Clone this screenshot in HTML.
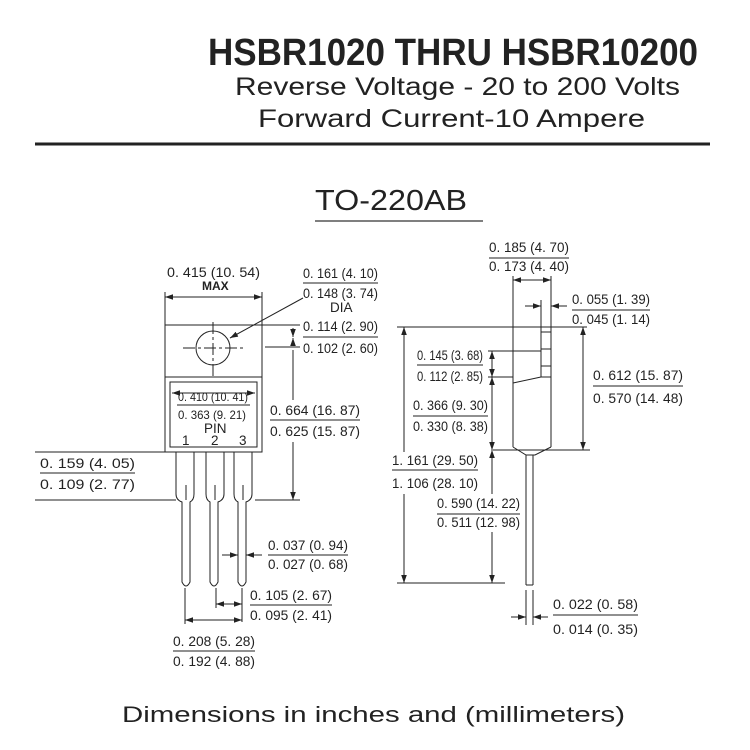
<!DOCTYPE html>
<html><head><meta charset="utf-8"><style>
html,body{margin:0;padding:0;background:#fff;}
svg{display:block;}
text{font-family:"Liberation Sans",sans-serif;fill:#222;}
.d{font-size:13.5px;}
</style></head><body>
<svg width="750" height="750" viewBox="0 0 750 750" xmlns="http://www.w3.org/2000/svg">
<defs>
<marker id="a" viewBox="0 0 10 10" refX="10" refY="5" markerWidth="8" markerHeight="8" orient="auto-start-reverse"><path d="M0,1.5 L10,5 L0,8.5 z" fill="#222"/></marker>
</defs>
<text x="208" y="65" font-size="38" font-weight="bold" textLength="490" lengthAdjust="spacingAndGlyphs">HSBR1020 THRU HSBR10200</text>
<text x="235" y="95" font-size="25" textLength="445" lengthAdjust="spacingAndGlyphs">Reverse Voltage - 20 to 200 Volts</text>
<text x="258" y="127" font-size="25" textLength="387" lengthAdjust="spacingAndGlyphs">Forward Current-10 Ampere</text>
<line x1="35" y1="144" x2="710" y2="144" stroke="#222" stroke-width="3"/>
<text x="315" y="210" font-size="29" textLength="152" lengthAdjust="spacingAndGlyphs">TO-220AB</text>
<line x1="315" y1="221" x2="483" y2="221" stroke="#555" stroke-width="1.5"/>

<g stroke="#222" stroke-width="1" fill="none">
<line x1="165" y1="292" x2="165" y2="325"/><line x1="262" y1="292" x2="262" y2="325"/>
<line x1="165" y1="297" x2="262" y2="297" marker-start="url(#a)" marker-end="url(#a)"/>
<rect x="165" y="325" width="97" height="127"/>
<line x1="165" y1="377" x2="262" y2="377"/>
<rect x="170" y="382" width="87" height="65"/>
<circle cx="213" cy="348" r="17"/>
<line x1="213" y1="322" x2="213" y2="376" stroke-dasharray="12,3,3,3"/>
<line x1="183" y1="348" x2="245" y2="348" stroke-dasharray="12,3,3,3"/>
<line x1="303" y1="298" x2="230" y2="338" marker-end="url(#a)"/>
<line x1="172" y1="393" x2="255" y2="393" marker-start="url(#a)" marker-end="url(#a)"/>
<path d="M176,452 V494 Q176,500 182,502 V582 Q186,590 190,582 V502 Q194,500 194,494 V452"/>
<line x1="186" y1="485" x2="186" y2="500"/>
<path d="M206,452 V494 Q206,500 210,502 V582 Q214,590 218,582 V502 Q224,500 224,494 V452"/>
<line x1="215" y1="485" x2="215" y2="500"/>
<path d="M234,452 V494 Q234,500 238,502 V582 Q242,590 246,582 V502 Q252,500 252,494 V452"/>
<line x1="243" y1="485" x2="243" y2="500"/>
<line x1="35" y1="452" x2="165" y2="452"/><line x1="35" y1="500" x2="176" y2="500"/>
<line x1="262" y1="325" x2="300" y2="325"/><line x1="265" y1="347" x2="300" y2="347"/>
<line x1="255" y1="500" x2="300" y2="500"/>
<line x1="293" y1="328" x2="293" y2="337" marker-end="url(#a)"/>
<line x1="293" y1="344" x2="293" y2="338" marker-end="url(#a)"/>
<line x1="293" y1="350" x2="293" y2="400"/>
<line x1="293" y1="442" x2="293" y2="500" marker-end="url(#a)"/>
<line x1="222" y1="555" x2="238" y2="555" marker-end="url(#a)"/>
<line x1="262" y1="555" x2="246" y2="555" marker-end="url(#a)"/>
<line x1="216" y1="588" x2="216" y2="608"/><line x1="242" y1="588" x2="242" y2="622"/>
<line x1="185" y1="588" x2="185" y2="624"/>
<line x1="216" y1="604" x2="242" y2="604" marker-start="url(#a)" marker-end="url(#a)"/>
<line x1="185" y1="620" x2="242" y2="620" marker-start="url(#a)" marker-end="url(#a)"/>

<line x1="513" y1="276" x2="513" y2="447"/><line x1="551" y1="276" x2="551" y2="447"/>
<line x1="513" y1="280" x2="551" y2="280" marker-start="url(#a)" marker-end="url(#a)"/>
<line x1="541" y1="300" x2="541" y2="377"/>
<line x1="541" y1="332" x2="551" y2="332"/><line x1="541" y1="349" x2="551" y2="349"/><line x1="541" y1="366" x2="551" y2="366"/>
<line x1="541" y1="377" x2="551" y2="377"/>
<path d="M513,383 L541,377"/>
<path d="M513,447 L526,455 L535,455 L551,447"/>
<line x1="525" y1="306" x2="541" y2="306" marker-end="url(#a)"/>
<line x1="567" y1="306" x2="551" y2="306" marker-end="url(#a)"/>
<line x1="397" y1="327" x2="587" y2="327"/>
<line x1="404" y1="327" x2="404" y2="452" marker-start="url(#a)"/>
<line x1="404" y1="494" x2="404" y2="583" marker-end="url(#a)"/>
<line x1="583" y1="327" x2="583" y2="450" marker-start="url(#a)" marker-end="url(#a)"/>
<line x1="493" y1="450" x2="590" y2="450"/>
<line x1="488" y1="351" x2="541" y2="351"/><line x1="488" y1="377" x2="513" y2="377"/>
<line x1="492" y1="351" x2="492" y2="377" marker-start="url(#a)" marker-end="url(#a)"/>
<line x1="492" y1="377" x2="492" y2="450" marker-start="url(#a)" marker-end="url(#a)"/>
<line x1="492" y1="450" x2="492" y2="494" marker-start="url(#a)"/>
<line x1="492" y1="532" x2="492" y2="583" marker-end="url(#a)"/>
<line x1="397" y1="583" x2="505" y2="583"/>
<line x1="526" y1="455" x2="526" y2="585"/><line x1="533" y1="455" x2="533" y2="585"/>
<line x1="526" y1="585" x2="533" y2="585"/>
<line x1="526" y1="590" x2="526" y2="625"/><line x1="533" y1="590" x2="533" y2="625"/>
<line x1="511" y1="617" x2="526" y2="617" marker-end="url(#a)"/>
<line x1="548" y1="617" x2="533" y2="617" marker-end="url(#a)"/>

<line x1="40" y1="473" x2="135" y2="473"/>
<line x1="270" y1="420" x2="360" y2="420"/>
<line x1="303" y1="283" x2="378" y2="283"/>
<line x1="303" y1="337" x2="378" y2="337"/>
<line x1="177" y1="405" x2="250" y2="405"/>
<line x1="268" y1="555" x2="348" y2="555"/>
<line x1="250" y1="605" x2="332" y2="605"/>
<line x1="173" y1="651" x2="255" y2="651"/>
<line x1="489" y1="258" x2="569" y2="258"/>
<line x1="572" y1="310" x2="650" y2="310"/>
<line x1="593" y1="386" x2="683" y2="386"/>
<line x1="417" y1="365" x2="483" y2="365"/>
<line x1="413" y1="416" x2="488" y2="416"/>
<line x1="392" y1="470" x2="478" y2="470"/>
<line x1="437" y1="514" x2="520" y2="514"/>
<line x1="553" y1="615" x2="638" y2="615"/>
</g>

<g class="d">
<text x="167" y="277" textLength="93" lengthAdjust="spacingAndGlyphs">0. 415 (10. 54)</text>
<text x="202" y="290" font-size="12" font-weight="bold">MAX</text>
<text x="303" y="278" textLength="75" lengthAdjust="spacingAndGlyphs">0. 161 (4. 10)</text>
<text x="303" y="298" textLength="75" lengthAdjust="spacingAndGlyphs">0. 148 (3. 74)</text>
<text x="330" y="312">DIA</text>
<text x="303" y="331" textLength="75" lengthAdjust="spacingAndGlyphs">0. 114 (2. 90)</text>
<text x="303" y="353" textLength="75" lengthAdjust="spacingAndGlyphs">0. 102 (2. 60)</text>
<text x="178" y="401" font-size="12" textLength="70" lengthAdjust="spacingAndGlyphs">0. 410 (10. 41)</text>
<text x="178" y="419" font-size="12" textLength="68" lengthAdjust="spacingAndGlyphs">0. 363 (9. 21)</text>
<text x="204" y="433">PIN</text>
<text x="182" y="445">1</text><text x="211" y="445">2</text><text x="239" y="445">3</text>
<text x="270" y="415" textLength="90" lengthAdjust="spacingAndGlyphs">0. 664 (16. 87)</text>
<text x="270" y="436" textLength="90" lengthAdjust="spacingAndGlyphs">0. 625 (15. 87)</text>
<text x="40" y="468" textLength="95" lengthAdjust="spacingAndGlyphs">0. 159 (4. 05)</text>
<text x="40" y="489" textLength="95" lengthAdjust="spacingAndGlyphs">0. 109 (2. 77)</text>
<text x="268" y="550" textLength="80" lengthAdjust="spacingAndGlyphs">0. 037 (0. 94)</text>
<text x="268" y="569" textLength="80" lengthAdjust="spacingAndGlyphs">0. 027 (0. 68)</text>
<text x="250" y="600" textLength="82" lengthAdjust="spacingAndGlyphs">0. 105 (2. 67)</text>
<text x="250" y="620" textLength="82" lengthAdjust="spacingAndGlyphs">0. 095 (2. 41)</text>
<text x="173" y="646" textLength="82" lengthAdjust="spacingAndGlyphs">0. 208 (5. 28)</text>
<text x="173" y="666" textLength="82" lengthAdjust="spacingAndGlyphs">0. 192 (4. 88)</text>
<text x="489" y="252" textLength="80" lengthAdjust="spacingAndGlyphs">0. 185 (4. 70)</text>
<text x="489" y="271" textLength="80" lengthAdjust="spacingAndGlyphs">0. 173 (4. 40)</text>
<text x="572" y="304" textLength="78" lengthAdjust="spacingAndGlyphs">0. 055 (1. 39)</text>
<text x="572" y="324" textLength="78" lengthAdjust="spacingAndGlyphs">0. 045 (1. 14)</text>
<text x="417" y="360" textLength="66" lengthAdjust="spacingAndGlyphs">0. 145 (3. 68)</text>
<text x="417" y="381" textLength="66" lengthAdjust="spacingAndGlyphs">0. 112 (2. 85)</text>
<text x="593" y="380" textLength="90" lengthAdjust="spacingAndGlyphs">0. 612 (15. 87)</text>
<text x="593" y="403" textLength="90" lengthAdjust="spacingAndGlyphs">0. 570 (14. 48)</text>
<text x="413" y="410" textLength="75" lengthAdjust="spacingAndGlyphs">0. 366 (9. 30)</text>
<text x="413" y="431" textLength="75" lengthAdjust="spacingAndGlyphs">0. 330 (8. 38)</text>
<text x="392" y="465" textLength="86" lengthAdjust="spacingAndGlyphs">1. 161 (29. 50)</text>
<text x="392" y="488" textLength="86" lengthAdjust="spacingAndGlyphs">1. 106 (28. 10)</text>
<text x="437" y="508" textLength="83" lengthAdjust="spacingAndGlyphs">0. 590 (14. 22)</text>
<text x="437" y="527" textLength="83" lengthAdjust="spacingAndGlyphs">0. 511 (12. 98)</text>
<text x="553" y="609" textLength="85" lengthAdjust="spacingAndGlyphs">0. 022 (0. 58)</text>
<text x="553" y="634" textLength="85" lengthAdjust="spacingAndGlyphs">0. 014 (0. 35)</text>
</g>
<text x="122" y="722" font-size="22" textLength="503" lengthAdjust="spacingAndGlyphs">Dimensions in inches and (millimeters)</text>
</svg>
</body></html>
